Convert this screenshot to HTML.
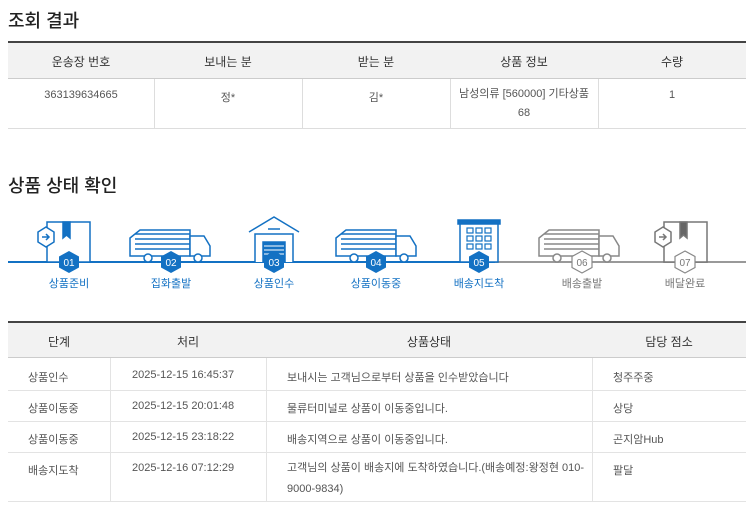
<!DOCTYPE html>
<html><head><meta charset="utf-8"><style>
body{margin:0;width:750px;height:506px;background:#fff;font-family:"Liberation Sans","Noto Sans CJK KR",sans-serif;color:#555;position:relative;overflow:hidden}
.a{position:absolute}
h2{position:absolute;margin:0;font-size:18px;font-weight:500;color:#222}
.c{position:absolute;text-align:center;font-size:11px}
.t{font-size:11px;color:#555}
.hd{font-size:12px;color:#333}
</style></head><body>
<h2 style="left:8px;top:7px">조회 결과</h2>
<div class="a" style="left:8px;top:41px;width:738px;height:2px;background:#444"></div>
<div class="a" style="left:8px;top:43px;width:738px;height:35px;background:#f2f2f2;border-bottom:1px solid #ccc"></div>
<div class="a" style="left:8px;top:128px;width:738px;height:1px;background:#ddd"></div>
<div class="a" style="left:154px;top:79px;width:1px;height:49px;background:#ddd"></div>
<div class="a" style="left:302px;top:79px;width:1px;height:49px;background:#ddd"></div>
<div class="a" style="left:450px;top:79px;width:1px;height:49px;background:#ddd"></div>
<div class="a" style="left:598px;top:79px;width:1px;height:49px;background:#ddd"></div>
<div class="c hd" style="left:8px;top:53px;width:146px">운송장 번호</div>
<div class="c hd" style="left:154px;top:53px;width:148px">보내는 분</div>
<div class="c hd" style="left:302px;top:53px;width:148px">받는 분</div>
<div class="c hd" style="left:450px;top:53px;width:148px">상품 정보</div>
<div class="c hd" style="left:598px;top:53px;width:148px">수량</div>
<div class="c" style="left:8px;top:89px;width:146px">363139634665</div>
<div class="c" style="left:154px;top:89px;width:148px">정*</div>
<div class="c" style="left:302px;top:89px;width:148px">김*</div>
<div class="c" style="left:450px;top:85px;width:148px;line-height:19px">남성의류 [560000] 기타상품<br>68</div>
<div class="c" style="left:598px;top:89px;width:148px">1</div>

<h2 style="left:8px;top:172px">상품 상태 확인</h2>
<svg class="a" style="left:0;top:210px" width="750" height="90" viewBox="0 210 750 90">
<g fill="none" stroke-width="2">
<line x1="8" y1="262" x2="495" y2="262" stroke="#1371c3"/>
<line x1="495" y1="262" x2="746" y2="262" stroke="#999"/>
</g>
<g stroke="#1371c3" stroke-width="1.5" fill="#fff">
<rect x="47" y="222" width="43" height="40"/>
<polygon points="63,222 70,222 70,238 66.5,235 63,238" fill="#1371c3"/>
<polygon points="46,227 54,232 54,242 46,247 38,242 38,232"/>
<path d="M42 237h7m-3-3l3 3-3 3"/>
</g>
<g stroke="#1371c3" stroke-width="1.5" fill="#fff">
<path d="M130 238l10-8h50v26h-60z"/><path d="M135 234h55M135 239h55M135 244h55M135 249h55" />
<path d="M190 236h14l6 10v10h-20z"/>
<circle cx="148" cy="258" r="4"/><circle cx="198" cy="258" r="4"/>
</g>
<g stroke="#1371c3" stroke-width="1.5" fill="#fff">
<path d="M336 238l10-8h50v26h-60z"/><path d="M341 234h55M341 239h55M341 244h55M341 249h55"/>
<path d="M396 236h14l6 10v10h-20z"/>
<circle cx="354" cy="258" r="4"/><circle cx="404" cy="258" r="4"/>
</g>
<g stroke="#888" stroke-width="1.5" fill="#fff">
<path d="M539 238l10-8h50v26h-60z"/><path d="M544 234h55M544 239h55M544 244h55M544 249h55"/>
<path d="M599 236h14l6 10v10h-20z"/>
<circle cx="557" cy="258" r="4"/><circle cx="607" cy="258" r="4"/>
</g>
<g stroke="#1371c3" stroke-width="1.5" fill="#fff">
<path d="M249 232l25-15 25 15"/><path d="M255 262v-28h38v28"/>
<rect x="263" y="242" width="22" height="20" fill="#1371c3"/>
<path d="M264 246h20M264 250h20M264 254h20" stroke="#fff" stroke-width="1"/>
<line x1="268" y1="229" x2="280" y2="229"/>
</g>
<g stroke="#1371c3" stroke-width="1.5" fill="#fff">
<rect x="458" y="220" width="42" height="4" fill="#1371c3"/>
<rect x="460" y="224" width="38" height="38"/>
<g stroke-width="1.2"><rect x="467" y="228" width="6" height="5"/><rect x="476" y="228" width="6" height="5"/><rect x="485" y="228" width="6" height="5"/>
<rect x="467" y="236" width="6" height="5"/><rect x="476" y="236" width="6" height="5"/><rect x="485" y="236" width="6" height="5"/>
<rect x="467" y="244" width="6" height="5"/><rect x="476" y="244" width="6" height="5"/><rect x="485" y="244" width="6" height="5"/></g>
</g>
<g stroke="#777" stroke-width="1.5" fill="#fff">
<rect x="664" y="222" width="43" height="40"/>
<polygon points="680,222 687,222 687,238 683.5,235 680,238" fill="#666"/>
<polygon points="663,227 671,232 671,242 663,247 655,242 655,232"/>
<path d="M659 237h7m-3-3l3 3-3 3"/>
</g>
<g font-family="Liberation Sans" font-size="10" text-anchor="middle">
<g fill="#1371c3"><polygon points="69,251 79,256.5 79,267.5 69,273 59,267.5 59,256.5"/><polygon points="171,251 181,256.5 181,267.5 171,273 161,267.5 161,256.5"/><polygon points="274,251 284,256.5 284,267.5 274,273 264,267.5 264,256.5"/><polygon points="376,251 386,256.5 386,267.5 376,273 366,267.5 366,256.5"/><polygon points="479,251 489,256.5 489,267.5 479,273 469,267.5 469,256.5"/></g>
<g fill="#fff" stroke="#888" stroke-width="1.2"><polygon points="582,251 592,256.5 592,267.5 582,273 572,267.5 572,256.5"/><polygon points="685,251 695,256.5 695,267.5 685,273 675,267.5 675,256.5"/></g>
<g fill="#fff"><text x="69" y="266">01</text><text x="171" y="266">02</text><text x="274" y="266">03</text><text x="376" y="266">04</text><text x="479" y="266">05</text></g>
<g fill="#777"><text x="582" y="266">06</text><text x="685" y="266">07</text></g>
</g>
<g font-family="Liberation Sans, Noto Sans CJK KR, sans-serif" font-size="11" text-anchor="middle">
<g fill="#1371c3"><text x="69" y="287">상품준비</text><text x="171" y="287">집화출발</text><text x="274" y="287">상품인수</text><text x="376" y="287">상품이동중</text><text x="479" y="287">배송지도착</text></g>
<g fill="#777"><text x="582" y="287">배송출발</text><text x="685" y="287">배달완료</text></g>
</g>
</svg>

<div class="a" style="left:8px;top:321px;width:738px;height:2px;background:#444"></div>
<div class="a" style="left:8px;top:323px;width:738px;height:34px;background:#f2f2f2;border-bottom:1px solid #ccc"></div>
<div class="a" style="left:8px;top:390px;width:738px;height:1px;background:#e3e3e3"></div>
<div class="a" style="left:8px;top:421px;width:738px;height:1px;background:#e3e3e3"></div>
<div class="a" style="left:8px;top:452px;width:738px;height:1px;background:#e3e3e3"></div>
<div class="a" style="left:8px;top:501px;width:738px;height:1px;background:#e3e3e3"></div>
<div class="a" style="left:110px;top:358px;width:1px;height:143px;background:#e3e3e3"></div>
<div class="a" style="left:266px;top:358px;width:1px;height:143px;background:#e3e3e3"></div>
<div class="a" style="left:592px;top:358px;width:1px;height:143px;background:#e3e3e3"></div>
<div class="c hd" style="left:8px;top:333px;width:102px">단계</div>
<div class="c hd" style="left:110px;top:333px;width:156px">처리</div>
<div class="c hd" style="left:266px;top:333px;width:326px">상품상태</div>
<div class="c hd" style="left:592px;top:333px;width:154px">담당 점소</div>

<div class="a t" style="left:28px;top:369px">상품인수</div>
<div class="a t" style="left:132px;top:369px">2025-12-15 16:45:37</div>
<div class="a t" style="left:287px;top:369px">보내시는 고객님으로부터 상품을 인수받았습니다</div>
<div class="a t" style="left:613px;top:369px">청주주중</div>
<div class="a t" style="left:28px;top:400px">상품이동중</div>
<div class="a t" style="left:132px;top:400px">2025-12-15 20:01:48</div>
<div class="a t" style="left:287px;top:400px">물류터미널로 상품이 이동중입니다.</div>
<div class="a t" style="left:613px;top:400px">상당</div>
<div class="a t" style="left:28px;top:431px">상품이동중</div>
<div class="a t" style="left:132px;top:431px">2025-12-15 23:18:22</div>
<div class="a t" style="left:287px;top:431px">배송지역으로 상품이 이동중입니다.</div>
<div class="a t" style="left:613px;top:431px">곤지암Hub</div>
<div class="a t" style="left:28px;top:462px">배송지도착</div>
<div class="a t" style="left:132px;top:462px">2025-12-16 07:12:29</div>
<div class="a t" style="left:287px;top:458px;width:300px;line-height:21px;white-space:nowrap">고객님의 상품이 배송지에 도착하였습니다.(배송예정:왕정현 010-<br>9000-9834)</div>
<div class="a t" style="left:613px;top:462px">팔달</div>
</body></html>
